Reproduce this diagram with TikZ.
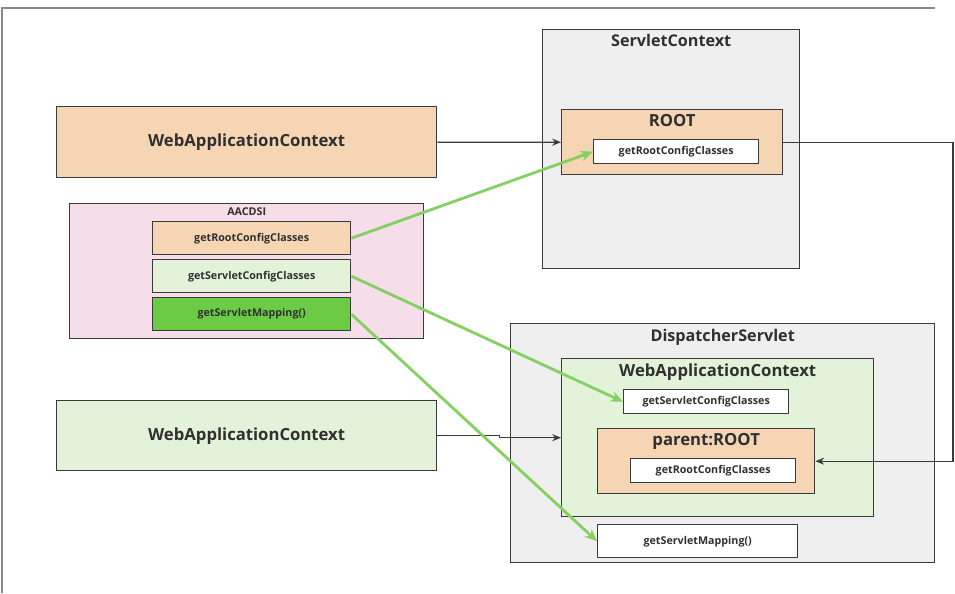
\documentclass[tikz,border=0pt]{standalone}
\usepackage{fontspec}
\setmainfont{Open Sans}
\usepackage{xcolor}
\usepackage{tikz}
\usetikzlibrary{arrows.meta}
\usetikzlibrary{positioning}
\definecolor{peach}{HTML}{F6D5B5}
\definecolor{pinkbg}{HTML}{F5DDEA}
\definecolor{palegreen}{HTML}{E2F3DA}
\definecolor{brightgreen}{HTML}{6CCB45}
\definecolor{arrowgreen}{HTML}{84D062}
\definecolor{panelgray}{HTML}{EFEFEF}
\definecolor{boxline}{HTML}{3A3A3A}
\definecolor{textgray}{HTML}{303030}
\tikzset{%
  every box/.style={
    rectangle,
    draw=boxline,
    line width=0.8pt,
    anchor=north west,
    inner sep=0pt,
    text=textgray
  },
  small box/.style={
    every box,
    minimum width=3.3cm,
    minimum height=0.48cm,
    fill=white,
    font=\bfseries\fontsize{6.1}{7}\selectfont
  },
  method box/.style={
    every box,
    minimum width=3.96cm,
    minimum height=0.66cm,
    font=\bfseries\fontsize{6.1}{7}\selectfont
  },
  box title/.style={
    inner sep=0pt,
    text=textgray,
    font=\bfseries\fontsize{9.2}{11}\selectfont
  },
  big title/.style={
    box title,
    font=\bfseries\fontsize{9.5}{11}\selectfont
  },
  green arrow/.style={
    draw=arrowgreen,
    line width=1.6pt,
    -{Stealth[length=7pt,width=6pt]}
  },
  plain arrow/.style={
    draw=boxline,
    line width=0.7pt,
    -{Stealth[length=5pt,width=4pt]}
  },
}

\begin{document}
\begin{tikzpicture}[x=0.02cm, y=-0.02cm, >=Stealth]

    \useasboundingbox (0,0) rectangle (955,593);

    % page frame
    \draw [boxline!60, line width=0.6pt] (2,593) -- (2,8) -- (935,8);

    % left column
    \node [every box, fill=peach, minimum width=7.6cm, minimum height=1.42cm,
        font=\bfseries\fontsize{9.5}{11}\selectfont] (wac-top) at (56,106) {WebApplicationContext};

    \node [every box, fill=pinkbg, minimum width=7.08cm, minimum height=2.7cm] (aacdsi) at (69,203) {};
    \node [box title, font=\bfseries\fontsize{6.1}{7}\selectfont, below=2.5pt of aacdsi.north] {AACDSI};

    \foreach \m/\c/\l [count=\y] in {root/peach/{getRootConfigClasses},
        servlet/palegreen/{getServletConfigClasses}, mapping/brightgreen/{getServletMapping()}}
    \node [method box, fill=\c] (aacdsi-\m) at (152,183+\y*38) {\l};

    \node [every box, fill=palegreen, minimum width=7.6cm, minimum height=1.4cm,
        font=\bfseries\fontsize{9.5}{11}\selectfont] (wac-bottom) at (56,400) {WebApplicationContext};

    % ServletContext
    \node [every box, fill=panelgray, minimum width=5.14cm, minimum height=4.78cm] (sc) at (542,29) {};
    \node [box title, below=3pt of sc.north] {ServletContext};

    \node [every box, fill=peach, minimum width=4.42cm, minimum height=1.3cm] (root) at (561,109) {};
    \node [big title, below=3pt of root.north] {ROOT};
    \node [small box] (root-get) at (593,139) {getRootConfigClasses};

    % DispatcherServlet
    \node [every box, fill=panelgray, minimum width=8.48cm, minimum height=4.78cm] (ds) at (510,323) {};
    \node [box title, below=3.5pt of ds.north] {DispatcherServlet};

    \node [every box, fill=palegreen, minimum width=6.24cm, minimum height=3.16cm] (wac-inner) at (561,358) {};
    \node [big title, below=3pt of wac-inner.north] {WebApplicationContext};
    \node [small box] (servlet-get) at (623,389) {getServletConfigClasses};

    \node [every box, fill=peach, minimum width=4.34cm, minimum height=1.3cm] (parent-root) at (597,428) {};
    \node [big title, below=3pt of parent-root.north] {parent:ROOT};
    \node [small box] (parent-get) at (630,458) {getRootConfigClasses};

    \node [small box, minimum width=4cm, minimum height=0.66cm] (mapping) at (597,524) {getServletMapping()};

    % connectors
    \draw [plain arrow] (wac-top.east) -- (root.west);
    \draw [plain arrow] (wac-bottom.east) -- ++(62,0) |- (wac-inner.west);

    \coordinate (loop-corner) at (953,0);
    \draw [plain arrow] (root.east) -- (root.east -| loop-corner) |- (parent-root.east);

    \foreach \a/\b in {root/root-get, servlet/servlet-get, mapping/mapping}
        \draw [green arrow] (aacdsi-\a.east) -- (\b.west);

\end{tikzpicture}
\end{document}
